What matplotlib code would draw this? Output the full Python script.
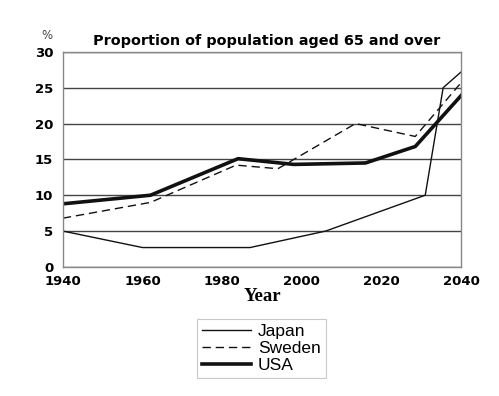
import matplotlib
matplotlib.use('Agg')
import matplotlib.pyplot as plt

# Datos
japan_years = [1940, 1960, 1987, 2006, 2031, 2035.5, 2040]
japan_vals = [5.0, 2.7, 2.7, 5.0, 10.0, 25.0, 27.2]

sweden_years = [1940, 1962, 1983.5, 1994, 2013.5, 2028.5, 2040]
sweden_vals = [6.8, 9.0, 14.2, 13.7, 20.0, 18.2, 25.7]

usa_years = [1940, 1962, 1984, 1998, 2016, 2028.5, 2040]
usa_vals = [8.8, 10.0, 15.1, 14.3, 14.5, 16.8, 23.9]

x_ticks = [1940, 1960, 1980, 2000, 2020, 2040]
y_ticks = [0, 5, 10, 15, 20, 25, 30]

fig = plt.figure(figsize=(4.99, 3.96), dpi=100)
ax = fig.add_axes([0.126, 0.326, 0.798, 0.543])

ax.plot(japan_years, japan_vals, color='#111111', lw=1.0, label='Japan')
ax.plot(sweden_years, sweden_vals, color='#111111', lw=1.0,
        dashes=(6, 3.5), label='Sweden')
ax.plot(usa_years, usa_vals, color='#111111', lw=2.6, label='USA')

ax.set_xlim(1940, 2040)
ax.set_ylim(0, 30)
ax.set_xticks(x_ticks)
ax.set_yticks(y_ticks)
ax.tick_params(length=0, labelsize=9.5)
ax.tick_params(axis='x', pad=6)
ax.tick_params(axis='y', pad=7)
for lbl in ax.get_xticklabels() + ax.get_yticklabels():
    lbl.set_fontweight('bold')
ax.yaxis.grid(True, color='#444444', lw=1.0)
ax.set_axisbelow(True)
for sp in ax.spines.values():
    sp.set_color('#888888')
    sp.set_linewidth(1.0)

ax.set_xlabel('Year', fontsize=13.5, fontweight='bold', family='Liberation Serif',
              labelpad=0)
fig.text(0.535, 0.897, 'Proportion of population aged 65 and over',
         ha='center', va='center', fontsize=10.4, fontweight='bold')
fig.text(0.094, 0.91, '%', ha='center', va='center', fontsize=8.5,
         color='#444444')

leg = ax.legend(loc='upper left', bbox_to_anchor=(0.315, -0.2),
                frameon=True, fancybox=False, prop={'family': 'Liberation Sans',
                                                    'size': 12.5},
                handlelength=2.8, handletextpad=0.4, borderpad=0.3,
                labelspacing=0.1)
leg.get_frame().set_edgecolor('#bbbbbb')
leg.get_frame().set_linewidth(0.8)

plt.savefig('out.png', dpi=100)
plt.close()
